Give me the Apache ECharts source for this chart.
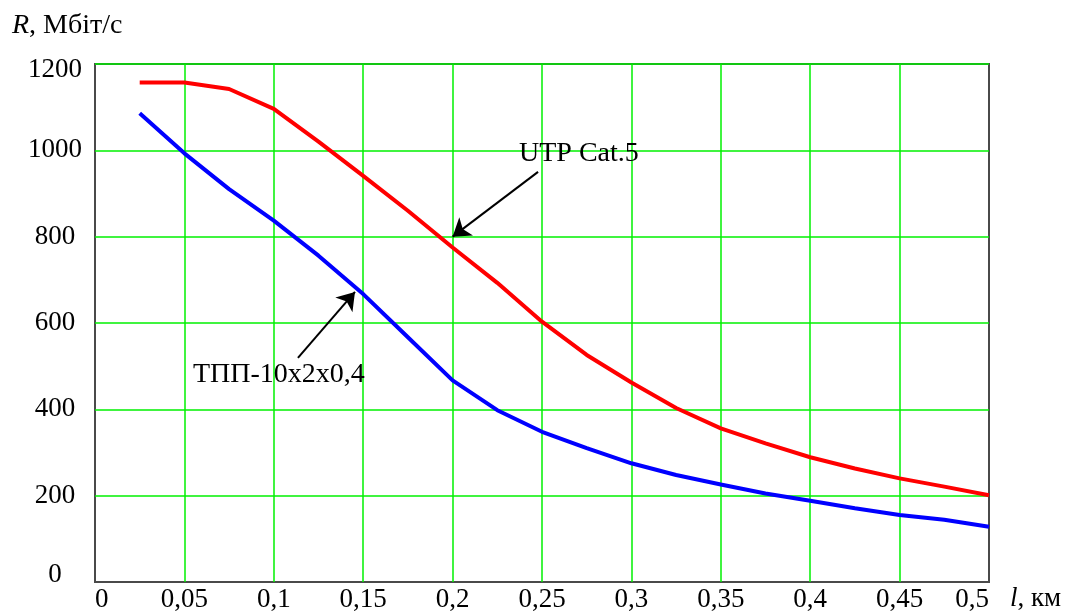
<!DOCTYPE html>
<html><head><meta charset="utf-8">
<script src="https://cdn.jsdelivr.net/npm/echarts@6/dist/echarts.min.js"></script>
<style>html,body{margin:0;padding:0;background:#fff}#c{width:1065px;height:613px}</style>
</head><body><div id="c"></div>
<script>
// Data
const distanceKm = [0.025,0.05,0.075,0.1,0.125,0.15,0.175,0.2,0.225,0.25,0.275,0.3,0.325,0.35,0.375,0.4,0.425,0.45,0.475,0.5];
const rateUTP = [1157,1157,1142,1096,1020,941,860,775,693,603,526,462,403,356,321,289,263,240,221,201];
const rateTPP = [1086,993,910,837,756,667,567,467,398,348,310,275,248,226,205,188,171,155,144,128];
const xTickLabels = ['0','0,05','0,1','0,15','0,2','0,25','0,3','0,35','0,4','0,45','0,5'];
const yTickLabels = ['0','200','400','600','800','1000','1200'];
const seriesNames = ['UTP Cat.5','ТПП-10x2x0,4'];
const arrowUTP = [[0.2478,950],[0.2,800]];
const arrowTPP = [[0.1135,519],[0.1454,672]];

const FONT = "'Liberation Serif','Times New Roman',serif";
const zip = (xs, ys) => xs.map((x, i) => [x, ys[i]]);

const chart = echarts.init(document.getElementById('c'), null, {renderer: 'canvas'});
chart.setOption({
  animation: false,
  backgroundColor: '#fff',
  grid: {left: 95, top: 64, right: 76, bottom: 31, show: true, borderColor: '#4a4a4a', borderWidth: 2, backgroundColor: 'transparent'},
  xAxis: {
    type: 'value', min: 0, max: 0.5, interval: 0.05,
    axisLine: {show: false}, axisTick: {show: false},
    splitLine: {show: true, showMinLine: false, showMaxLine: false, lineStyle: {color: '#00f000', width: 1.5}},
    axisLabel: {
      color: '#000', fontFamily: FONT, fontSize: 27, margin: 4,
      alignMinLabel: 'left', alignMaxLabel: 'right',
      formatter: (v, i) => xTickLabels[i]
    }
  },
  yAxis: {
    type: 'value', min: 0, max: 1200, interval: 200,
    axisLine: {show: false}, axisTick: {show: false},
    splitLine: {show: true, showMinLine: false, showMaxLine: true, lineStyle: {color: '#00f000', width: 1.5}},
    axisLabel: {
      color: '#000', fontFamily: FONT, fontSize: 27, margin: 40, align: 'center',
      formatter: (v, i) => i === 0 ? '{lo|' + yTickLabels[i] + '}'
        : (i === yTickLabels.length - 1 ? '{hi|' + yTickLabels[i] + '}' : yTickLabels[i]),
      rich: {
        lo: {fontFamily: FONT, fontSize: 27, color: '#000', padding: [0, 0, 14, 0]},
        hi: {fontFamily: FONT, fontSize: 27, color: '#000', padding: [12, 0, 0, 0]}
      }
    }
  },
  series: [
    {name: seriesNames[1], type: 'line', data: zip(distanceKm, rateTPP), showSymbol: false, z: 3,
     lineStyle: {color: '#0000ff', width: 4}},
    {name: seriesNames[0], type: 'line', data: zip(distanceKm, rateUTP), showSymbol: false, z: 3,
     lineStyle: {color: '#ff0000', width: 4}},
    {name: 'arrows', type: 'line', data: [], z: 4,
     markLine: {
       silent: true, animation: false,
       symbol: ['none', 'arrow'], symbolSize: 17,
       lineStyle: {color: '#000', width: 2, type: 'solid'},
       label: {show: false},
       emphasis: {disabled: true},
       data: [
         [{coord: arrowUTP[0]}, {coord: arrowUTP[1]}],
         [{coord: arrowTPP[0]}, {coord: arrowTPP[1]}]
       ]
     }}
  ],
  graphic: [
    {type: 'text', left: 12, top: 12, z: 10,
     style: {text: '{i|R}, Мбіт/с', font: '28px ' + FONT, fill: '#000',
       rich: {i: {fontStyle: 'italic', fontFamily: FONT, fontSize: 28}}}},
    {type: 'text', left: 1010, top: 585, z: 10,
     style: {text: '{i|l}, км', font: '27px ' + FONT, fill: '#000',
       rich: {i: {fontStyle: 'italic', fontFamily: FONT, fontSize: 27}}}},
    {type: 'text', x: 519, y: 154, z: 10,
     style: {text: seriesNames[0], font: '28px ' + FONT, fill: '#000', verticalAlign: 'middle'}},
    {type: 'text', x: 193, y: 375, z: 10,
     style: {text: seriesNames[1], font: '28px ' + FONT, fill: '#000', verticalAlign: 'middle'}}
  ]
});
</script>
</body></html>
